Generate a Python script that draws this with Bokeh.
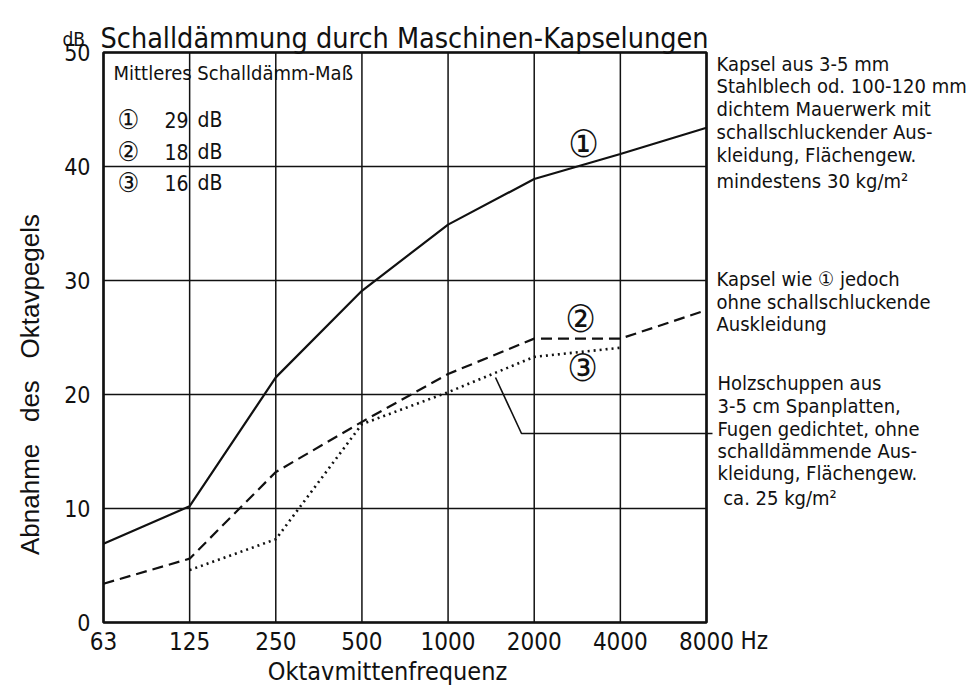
import math
from bokeh.plotting import figure
from bokeh.models import Label, Range1d
from bokeh.core.properties import value
from bokeh.embed import file_html
from bokeh.resources import INLINE

# ---------------- data ----------------
freq_labels = ["63", "125", "250", "500", "1000", "2000", "4000", "8000"]
curve1 = [6.9, 10.2, 21.5, 29.1, 34.9, 38.9, 41.1, 43.4]          # solid
curve2 = [3.4, 5.6, 13.2, 17.6, 21.8, 24.9, 24.9, 27.4]           # dashed
curve3 = [float("nan"), 4.6, 7.3, 17.4, 20.2, 23.3, 24.1, float("nan")]  # dotted
y_ticks = [0, 10, 20, 30, 40, 50]
y_tick_labels = ["0", "10", "20", "30", "40", "50"]
legend_marks = ["\u2460", "\u2461", "\u2462"]
legend_values = ["29", "18", "16"]

FONT = "DejaVu Sans Condensed"
INK = "#111111"

x_idx = list(range(len(freq_labels)))
X_MAX = len(freq_labels) - 1
Y_MIN, Y_MAX = y_ticks[0], y_ticks[-1]

# plot-area position on the page (pixels) and page size
PX_L, PX_R, PX_T, PX_B = 103, 706, 52, 622
W, H = 979, 689
ppx = (PX_R - PX_L) / X_MAX
ppy = (PX_B - PX_T) / (Y_MAX - Y_MIN)

# whole canvas is the frame, so that notes around the chart are not clipped
p = figure(width=W, height=H,
           x_range=Range1d(-PX_L / ppx, X_MAX + (W - PX_R) / ppx),
           y_range=Range1d(Y_MIN - (H - PX_B) / ppy, Y_MAX + PX_T / ppy),
           output_backend="svg", toolbar_location=None,
           x_axis_location=None, y_axis_location=None, min_border=0)
p.outline_line_color = None
p.background_fill_color = "white"
p.border_fill_color = "white"
p.xgrid.visible = False
p.ygrid.visible = False

# grid lines at the ticks
p.segment(x0=x_idx, y0=[Y_MIN] * len(x_idx), x1=x_idx, y1=[Y_MAX] * len(x_idx),
          line_color=INK, line_width=1.5)
p.segment(x0=[0] * len(y_ticks), y0=y_ticks, x1=[X_MAX] * len(y_ticks), y1=y_ticks,
          line_color=INK, line_width=1.5)
# frame
p.quad(left=[0], right=[X_MAX], bottom=[Y_MIN], top=[Y_MAX], fill_color=None,
       line_color=INK, line_width=2.6)

# tick labels
p.text(x=x_idx, y=[Y_MIN] * len(x_idx), text=freq_labels, y_offset=9,
       text_align="center", text_baseline="top", text_font=value(FONT),
       text_font_size=value("24px"), text_color=INK)
p.text(x=[0] * len(y_ticks), y=y_ticks, text=y_tick_labels, x_offset=-13,
       text_align="right", text_baseline="middle", text_font=value(FONT),
       text_font_size=value("23px"), text_color=INK)

# curves
p.line(x_idx, curve1, line_color=INK, line_width=2.2)
p.line(x_idx, curve2, line_color=INK, line_width=2.2, line_dash="11 6")
p.line(x_idx, curve3, line_color=INK, line_width=2.6, line_dash="2 4")

def dx(px):
    return (px - PX_L) / ppx
def dy(py):
    return Y_MIN + (PX_B - py) / ppy

# leader line from curve 3 to its note
p.line([dx(495), dx(521), dx(712)], [dy(377), dy(433), dy(433)],
       line_color=INK, line_width=1.6)

def lab(px, py, text, size="20px", align="left", baseline="middle", font=FONT, angle=0):
    p.add_layout(Label(x=dx(px), y=dy(py), text=text, text_font=font,
                       text_font_size=size, text_align=align,
                       text_baseline=baseline, text_color=INK, angle=angle))

# title
lab(62, 38, "dB", size="19px")
lab(100, 38, "Schalldämmung durch Maschinen-Kapselungen", size="28.5px",
    baseline="alphabetic")

# axis titles
gap = "\u00a0\u00a0\u00a0"
lab(29, 384, "Abnahme" + gap + "des" + gap + "Oktavpegels", size="26px",
    align="center", font="Liberation Sans", angle=math.pi / 2)
lab(387, 671, "Oktavmittenfrequenz", size="25px", align="center")
lab(740, 640, "Hz", size="24px")

# legend block inside the chart
lab(113, 72, "Mittleres Schalldämm-Maß", size="20px")
for m, v, yy in zip(legend_marks, legend_values, [119, 151, 182]):
    lab(128, yy, m, size="27px", align="center")
    lab(188, yy, v, size="21px", align="right")
    lab(197, yy, "dB", size="21px")

# curve markers
lab(583, 143, legend_marks[0], size="38px", align="center")
lab(580, 318, legend_marks[1], size="38px", align="center")
lab(582, 367, legend_marks[2], size="38px", align="center")

# notes on the right
block1 = ["Kapsel aus 3-5 mm", "Stahlblech od. 100-120 mm", "dichtem Mauerwerk mit",
          "schallschluckender Aus-", "kleidung, Flächengew.", "mindestens 30 kg/m²"]
for t, yy in zip(block1, [63, 85, 108, 131, 154, 180]):
    lab(716, yy, t)
block2 = ["Kapsel wie \u2460 jedoch", "ohne schallschluckende", "Auskleidung"]
for t, yy in zip(block2, [278, 301, 323]):
    lab(716, yy, t)
block3 = ["Holzschuppen aus", "3-5 cm Spanplatten,", "Fugen gedichtet, ohne",
          "schalldämmende Aus-", "kleidung, Flächengew.", "\u00a0ca. 25 kg/m²"]
for t, yy in zip(block3, [382, 405, 428, 450, 472, 497]):
    lab(717, yy, t)

open("out.html", "w").write(file_html(p, INLINE))
